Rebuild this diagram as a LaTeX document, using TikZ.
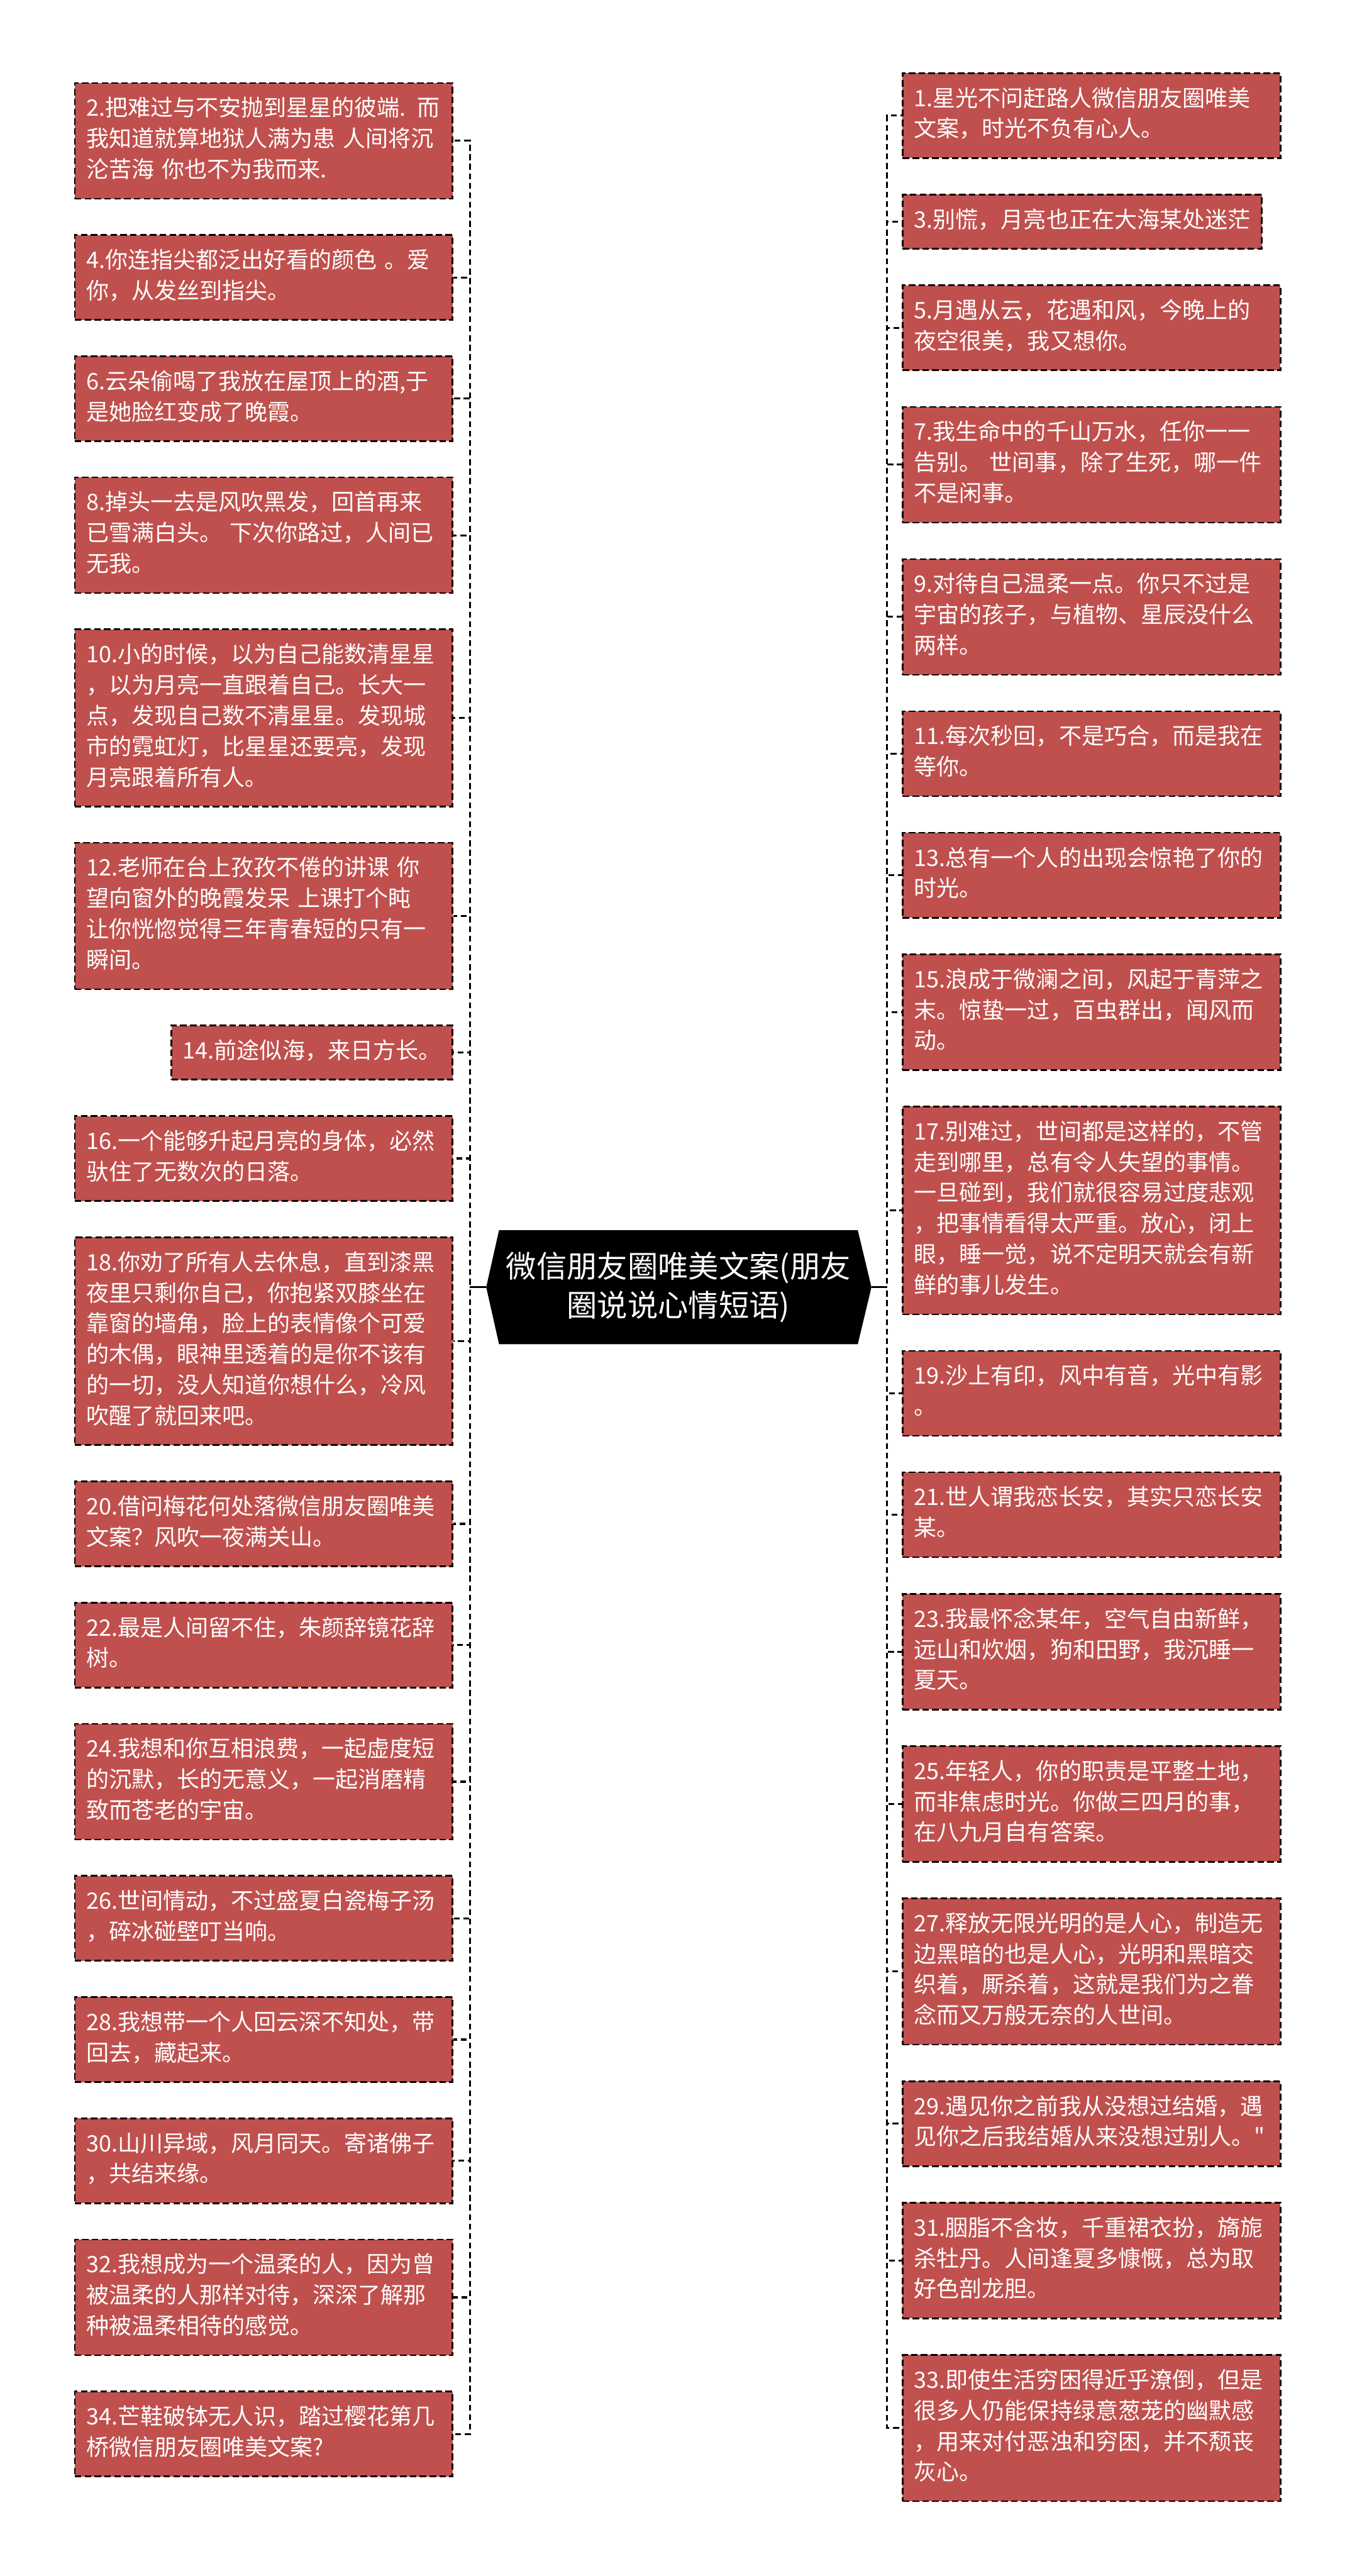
\documentclass[tikz,border=0pt]{standalone}
\usepackage{fontspec}
\setmainfont{Noto Sans CJK SC}[Ligatures=TeXOff]
\usetikzlibrary{backgrounds,calc}
\definecolor{boxred}{HTML}{C0504D}
\tikzset{
  boxbase/.style={fill=boxred, draw=black, line width=1pt, dash pattern=on 4pt off 2pt,
    text=white, font=\fontsize{13.8}{18.7}\selectfont, inner xsep=7pt, inner ysep=7.15pt,
    execute at begin node=\strut, execute at end node=\strut},
  box/.style={boxbase, text width=216pt, align=left},
  conn/.style={draw=black, line width=1.2pt, dash pattern=on 3.6pt off 2.2pt},
  stub/.style={draw=black, line width=1.2pt},
  hub/.style={text=white, minimum width=218pt, minimum height=69pt, inner sep=0pt,
    align=center, font=\fontsize{18.5}{24}\selectfont}
}
\begin{document}
\begin{tikzpicture}[x=1pt,y=1pt]
\useasboundingbox (0,0) rectangle (826,-1568);
% centre
\node[hub] (c) at (413,-783.5) {微信朋友圈唯美文案(朋友\\圈说说心情短语)};
\coordinate (cl) at (296,-783.5);
\coordinate (cr) at (530.5,-783.5);
\begin{scope}[on background layer]
\fill[black] (c.north west) -- (c.north east) -- (cr) -- (c.south east) -- (c.south west) -- (cl) -- cycle;
\end{scope}
% left column
\def\gl{21.1pt}
\node[box, anchor=north east] (b2) at (276,-50) {2.把难过与不安抛到星星的彼端. 而\\我知道就算地狱人满为患 人间将沉\\沦苦海 你也不为我而来.};
\node[box, anchor=north east] (b4) at ([yshift=-\gl]b2.south east) {4.你连指尖都泛出好看的颜色 。爱\\你，从发丝到指尖。};
\node[box, anchor=north east] (b6) at ([yshift=-\gl]b4.south east) {6.云朵偷喝了我放在屋顶上的酒,于\\是她脸红变成了晚霞。};
\node[box, anchor=north east] (b8) at ([yshift=-\gl]b6.south east) {8.掉头一去是风吹黑发，回首再来\\已雪满白头。 下次你路过，人间已\\无我。};
\node[box, anchor=north east] (b10) at ([yshift=-\gl]b8.south east) {10.小的时候，以为自己能数清星星\\，以为月亮一直跟着自己。长大一\\点，发现自己数不清星星。发现城\\市的霓虹灯，比星星还要亮，发现\\月亮跟着所有人。};
\node[box, anchor=north east] (b12) at ([yshift=-\gl]b10.south east) {12.老师在台上孜孜不倦的讲课 你\\望向窗外的晚霞发呆 上课打个盹\\让你恍惚觉得三年青春短的只有一\\瞬间。};
\node[boxbase, anchor=north east] (b14) at ([yshift=-\gl]b12.south east) {14.前途似海，来日方长。};
\node[box, anchor=north east] (b16) at ([yshift=-\gl]b14.south east) {16.一个能够升起月亮的身体，必然\\驮住了无数次的日落。};
\node[box, anchor=north east] (b18) at ([yshift=-\gl]b16.south east) {18.你劝了所有人去休息，直到漆黑\\夜里只剩你自己，你抱紧双膝坐在\\靠窗的墙角，脸上的表情像个可爱\\的木偶，眼神里透着的是你不该有\\的一切，没人知道你想什么，冷风\\吹醒了就回来吧。};
\node[box, anchor=north east] (b20) at ([yshift=-\gl]b18.south east) {20.借问梅花何处落微信朋友圈唯美\\文案？风吹一夜满关山。};
\node[box, anchor=north east] (b22) at ([yshift=-\gl]b20.south east) {22.最是人间留不住，朱颜辞镜花辞\\树。};
\node[box, anchor=north east] (b24) at ([yshift=-\gl]b22.south east) {24.我想和你互相浪费，一起虚度短\\的沉默，长的无意义，一起消磨精\\致而苍老的宇宙。};
\node[box, anchor=north east] (b26) at ([yshift=-\gl]b24.south east) {26.世间情动，不过盛夏白瓷梅子汤\\，碎冰碰壁叮当响。};
\node[box, anchor=north east] (b28) at ([yshift=-\gl]b26.south east) {28.我想带一个人回云深不知处，带\\回去，藏起来。};
\node[box, anchor=north east] (b30) at ([yshift=-\gl]b28.south east) {30.山川异域，风月同天。寄诸佛子\\，共结来缘。};
\node[box, anchor=north east] (b32) at ([yshift=-\gl]b30.south east) {32.我想成为一个温柔的人，因为曾\\被温柔的人那样对待，深深了解那\\种被温柔相待的感觉。};
\node[box, anchor=north east] (b34) at ([yshift=-\gl]b32.south east) {34.芒鞋破钵无人识，踏过樱花第几\\桥微信朋友圈唯美文案?};
% right column
\def\gr{21.25pt}
\node[box, anchor=north west] (b1) at (549,-44) {1.星光不问赶路人微信朋友圈唯美\\文案，时光不负有心人。};
\node[boxbase, anchor=north west] (b3) at ([yshift=-\gr]b1.south west) {3.别慌，月亮也正在大海某处迷茫};
\node[box, anchor=north west] (b5) at ([yshift=-\gr]b3.south west) {5.月遇从云，花遇和风，今晚上的\\夜空很美，我又想你。};
\node[box, anchor=north west] (b7) at ([yshift=-\gr]b5.south west) {7.我生命中的千山万水，任你一一\\告别。 世间事，除了生死，哪一件\\不是闲事。};
\node[box, anchor=north west] (b9) at ([yshift=-\gr]b7.south west) {9.对待自己温柔一点。你只不过是\\宇宙的孩子，与植物、星辰没什么\\两样。};
\node[box, anchor=north west] (b11) at ([yshift=-\gr]b9.south west) {11.每次秒回，不是巧合，而是我在\\等你。};
\node[box, anchor=north west] (b13) at ([yshift=-\gr]b11.south west) {13.总有一个人的出现会惊艳了你的\\时光。};
\node[box, anchor=north west] (b15) at ([yshift=-\gr]b13.south west) {15.浪成于微澜之间，风起于青萍之\\末。惊蛰一过，百虫群出，闻风而\\动。};
\node[box, anchor=north west] (b17) at ([yshift=-\gr]b15.south west) {17.别难过，世间都是这样的，不管\\走到哪里，总有令人失望的事情。\\一旦碰到，我们就很容易过度悲观\\，把事情看得太严重。放心，闭上\\眼，睡一觉，说不定明天就会有新\\鲜的事儿发生。};
\node[box, anchor=north west] (b19) at ([yshift=-\gr]b17.south west) {19.沙上有印，风中有音，光中有影\\。};
\node[box, anchor=north west] (b21) at ([yshift=-\gr]b19.south west) {21.世人谓我恋长安，其实只恋长安\\某。};
\node[box, anchor=north west] (b23) at ([yshift=-\gr]b21.south west) {23.我最怀念某年，空气自由新鲜，\\远山和炊烟，狗和田野，我沉睡一\\夏天。};
\node[box, anchor=north west] (b25) at ([yshift=-\gr]b23.south west) {25.年轻人，你的职责是平整土地，\\而非焦虑时光。你做三四月的事，\\在八九月自有答案。};
\node[box, anchor=north west] (b27) at ([yshift=-\gr]b25.south west) {27.释放无限光明的是人心，制造无\\边黑暗的也是人心，光明和黑暗交\\织着，厮杀着，这就是我们为之眷\\念而又万般无奈的人世间。};
\node[box, anchor=north west] (b29) at ([yshift=-\gr]b27.south west) {29.遇见你之前我从没想过结婚，遇\\见你之后我结婚从来没想过别人。\char34};
\node[box, anchor=north west] (b31) at ([yshift=-\gr]b29.south west) {31.胭脂不含妆，千重裙衣扮，旖旎\\杀牡丹。人间逢夏多慷慨，总为取\\好色剖龙胆。};
\node[box, anchor=north west] (b33) at ([yshift=-\gr]b31.south west) {33.即使生活穷困得近乎潦倒，但是\\很多人仍能保持绿意葱茏的幽默感\\，用来对付恶浊和穷困，并不颓丧\\灰心。};
% connectors
\foreach \b in {b2,b4,b6,b8,b10,b12,b14,b16,b18,b20,b22,b24,b26,b28,b30,b32,b34}
  \draw[conn] (cl) -- ++(-10,0) |- (\b.east);
\foreach \b in {b1,b3,b5,b7,b9,b11,b13,b15,b17,b19,b21,b23,b25,b27,b29,b31,b33}
  \draw[conn] (cr) -- ++(9.5,0) |- (\b.west);
\draw[stub] (cl) -- ++(-10,0);
\draw[stub] (cr) -- ++(9.5,0);
\end{tikzpicture}
\end{document}
